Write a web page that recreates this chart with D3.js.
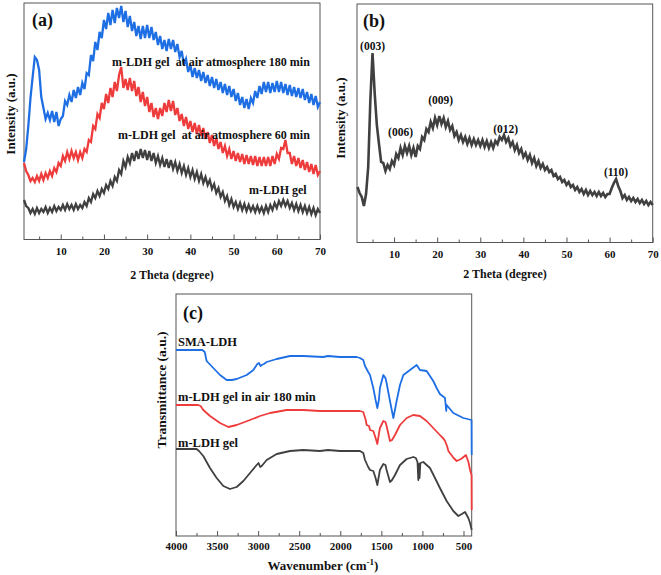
<!DOCTYPE html>
<html><head><meta charset="utf-8">
<script src="https://cdn.jsdelivr.net/npm/d3@7"></script>
<style>
html,body{margin:0;padding:0;background:#fff;}
svg text{font-family:"Liberation Serif","Times New Roman",serif;font-weight:bold;fill:#111;white-space:pre;}
</style></head><body>
<svg id="fig" width="661" height="575"></svg>
<script>
// ---------- Panel (a) & (b): XRD, 2θ sampling grid (degrees) ----------
const twoTheta = d3.range(1.5, 70.25, 0.5);
const xrdTicks = [10, 20, 30, 40, 50, 60, 70];
const xrdMinor = [5, 15, 25, 35, 45, 55, 65];

// (a) m-LDH gel at air atmosphere 180 min (a.u.)
const air180 = [
 77,90,113,141,162,182,179,169,142,131,
 120,126,119,128,117,127,113,120,123,138,
 134,144,137,149,141,152,144,156,150,166,
 164,184,178,197,189,207,201,219,210,226,
 214,229,216,231,221,233,217,228,212,223,
 208,217,203,213,200,213,201,214,201,212,
 199,207,194,203,190,199,188,200,190,199,
 187,195,182,188,174,180,167,174,162,171,
 161,169,158,167,156,164,153,162,151,160,
 149,157,146,155,144,153,142,150,138,146,
 134,142,131,140,130,141,136,148,141,153,
 145,157,147,157,146,156,147,158,147,157,
 146,155,144,154,143,152,142,151,141,150,
 139,147,136,145,134,143,132,137];
// (a) m-LDH gel at air atmosphere 60 min
const air60 = [
 76,68,64,58,61,57,63,58,65,59,
 66,61,68,63,71,67,76,73,83,78,
 87,80,88,81,87,79,87,81,90,87,
 99,97,113,110,125,121,136,130,145,136,
 151,142,157,148,164,172,151,160,149,161,
 148,158,143,152,137,147,133,142,127,136,
 122,131,120,131,123,136,127,139,128,138,
 124,131,118,125,113,122,110,118,107,116,
 105,114,103,111,100,107,96,104,93,101,
 90,97,86,93,83,90,80,88,78,86,
 77,85,75,84,75,83,74,83,73,82,
 73,82,73,82,73,83,75,85,80,91,
 90,99,86,86,75,83,73,81,71,79,
 69,77,67,75,65,74,64,68];
// (a) m-LDH gel
const gelA = [
 39,33,31,26,30,25,31,26,30,27,
 32,26,31,27,33,28,32,29,34,29,
 35,30,34,29,35,30,34,31,37,33,
 41,37,45,41,48,43,50,46,54,50,
 58,53,62,58,69,65,78,72,82,76,
 86,78,88,80,90,81,89,79,88,78,
 86,76,83,74,81,72,80,71,79,70,
 77,68,75,66,73,64,71,62,69,60,
 67,58,65,56,62,54,59,50,55,46,
 51,42,47,38,43,34,40,32,37,30,
 36,29,35,28,34,28,33,27,33,27,
 32,26,33,27,34,29,36,31,38,33,
 39,33,38,31,36,29,35,28,34,27,
 33,26,32,25,31,24,30,26];
// (b) SMA-LDH pattern
const smaXrd = [
 52,46,42,33,45,72,139,186,146,114,
 95,77,76,68,74,70,78,74,85,81,
 91,84,93,86,93,84,91,82,93,90,
 102,99,110,107,117,111,121,114,123,115,
 121,112,118,109,113,103,107,99,104,97,
 102,95,101,94,100,94,99,93,99,92,
 98,91,97,91,98,95,102,99,104,97,
 101,93,97,89,94,86,90,82,86,79,
 84,76,81,73,78,71,75,69,72,67,
 69,63,65,60,62,57,59,54,57,52,
 54,49,52,47,50,45,49,44,48,44,
 47,43,47,43,46,42,45,45,51,56,
 60,53,48,41,44,39,42,38,41,37,
 40,36,39,35,38,34,37,34];
const peakLabels = ["(003)", "(006)", "(009)", "(012)", "(110)"];
const peakPos = [5.0, 11.5, 20.8, 35.9, 61.5];
const peakVal = [189, 103, 135, 106, 63];

// ---------- Panel (c): FTIR ----------
const wnTicks = [4000, 3500, 3000, 2500, 2000, 1500, 1000, 500];
const wnMinor = [3750, 3250, 2750, 2250, 1750, 1250, 750];
const smaWn = [4000,3680,3650,3627,3546,3464,3383,3320,3261,3200,3139,3058,3010,2990,2970,2957,2930,2896,2774,2612,2450,2207,2150,2004,1800,1760,1720,1699,1660,1638,1598,1570,1549,1530,1517,1476,1450,1436,1395,1354,1330,1314,1273,1232,1151,1070,1030,949,868,850,827,787,740,725,710,705,624,502,402,400];
const smaT = [186,186,184,175,168,161,156,156,157,159,161,166,172,173,170,171,172,174,177,180,180,179,180,179,179,178,176,170,164,161,148,136,128,136,148,161,158,153,135,118,128,135,151,161,166,171,166,165,155,152,148,142,139,138,125,131,123,118,116,81];
const airWn = [4000,3730,3700,3668,3586,3464,3363,3261,3099,2977,2855,2653,2450,2247,2004,1760,1720,1690,1679,1650,1638,1598,1570,1549,1530,1517,1476,1450,1436,1395,1370,1334,1273,1192,1111,1030,949,868,787,740,725,700,684,620,583,530,470,440,420,402,400];
const airT = [131,131,130,126,120,113,109,111,116,120,123,126,126,125,125,125,124,116,111,110,106,105,98,92,102,108,115,114,110,95,96,101,111,118,121,120,115,108,101,97,95,90,85,78,75,77,81,74,66,61,26];
const gelWn = [4000,3750,3720,3668,3586,3505,3424,3343,3261,3180,3099,3018,2995,2975,2957,2896,2774,2612,2450,2247,2150,2004,1760,1720,1699,1660,1638,1598,1570,1549,1530,1517,1476,1450,1436,1395,1370,1334,1273,1192,1111,1080,1060,1050,1042,1035,1025,989,908,847,787,705,624,563,520,481,441,420,400];
const gelT = [87,87,85,80,68,58,50,47,49,55,63,71,73,69,70,76,82,85,86,85,86,85,85,83,76,69,66,65,58,51,60,66,72,71,66,54,56,61,71,77,79,78,74,56,72,58,73,74,68,58,48,35,25,20,22,24,18,13,6];

const BLUE = "#1f6fe4", RED = "#ee3b3b", GRAY = "#404040";
const svg = d3.select("#fig");

function frame(x0, x1, y0, y1) {
  svg.append("rect").attr("x", x0).attr("y", y0).attr("width", x1 - x0).attr("height", y1 - y0)
    .attr("fill", "none").attr("stroke", "#555").attr("stroke-width", 1);
}
function bottomAxis(x, y1, majors, minors, pad, fs) {
  const g = svg.append("g").attr("transform", `translate(0,${y1})`)
    .call(d3.axisBottom(x).tickValues(majors).tickSize(-5).tickPadding(pad).tickFormat(d3.format("d")));
  g.select(".domain").remove();
  g.attr("font-family", null).attr("font-size", null);
  g.selectAll("line").attr("stroke", "#555");
  g.selectAll("text").style("font-size", fs + "px");
  const m = svg.append("g").attr("transform", `translate(0,${y1})`)
    .call(d3.axisBottom(x).tickValues(minors).tickSize(-3).tickFormat(""));
  m.select(".domain").remove();
  m.selectAll("line").attr("stroke", "#555");
}
function txt(x, y, s, fs, anchor) {
  return svg.append("text").attr("x", x).attr("y", y).attr("text-anchor", anchor || "start")
    .style("font-size", fs + "px").text(s);
}
function ytitle(x, y, s, fs) {
  svg.append("text").attr("transform", `translate(${x},${y}) rotate(-90)`).attr("text-anchor", "middle")
    .style("font-size", fs + "px").text(s);
}

// ===== Panel (a) =====
{
  const x = d3.scaleLinear().domain([1.5, 70]).range([24, 320]);
  const y = d3.scaleLinear().domain([-0.5, 236]).range([239.5, 3]);
  frame(24, 320, 3, 239.5);
  const line = d3.line().x((d, i) => x(twoTheta[i])).y(d => y(d));
  [[gelA, GRAY], [air60, RED], [air180, BLUE]].forEach(([s, c]) => {
    svg.append("path").datum(s).attr("d", line).attr("fill", "none")
      .attr("stroke", c).attr("stroke-width", 2.3).attr("stroke-linejoin", "miter");
  });
  bottomAxis(x, 239.5, xrdTicks, xrdMinor, 8, 11);
  txt(172, 279, "2 Theta (degree)", 12, "middle");
  ytitle(14.5, 114, "Intensity (a.u.)", 13);
  txt(32, 26, "(a)", 18);
  txt(112, 66, "m-LDH gel  at air atmosphere 180 min", 12);
  txt(118, 139, "m-LDH gel  at air atmosphere 60 min", 12);
  txt(249, 194, "m-LDH gel", 12);
}

// ===== Panel (b) =====
{
  const x = d3.scaleLinear().domain([1.4, 70]).range([357, 652.7]);
  const y = d3.scaleLinear().domain([-3.5, 235]).range([242.5, 4]);
  frame(357, 652.7, 4, 242.5);
  const line = d3.line().x((d, i) => x(twoTheta[i])).y(d => y(d));
  svg.append("path").datum(smaXrd).attr("d", line).attr("fill", "none")
    .attr("stroke", GRAY).attr("stroke-width", 2.6).attr("stroke-linejoin", "miter");
  bottomAxis(x, 242.5, xrdTicks, xrdMinor, 8, 11);
  txt(505, 278, "2 Theta (degree)", 12, "middle");
  ytitle(344.5, 118, "Intensity (a.u.)", 13);
  txt(363, 27, "(b)", 18);
  peakLabels.forEach((s, i) => txt(x(peakPos[i]), y(peakVal[i]), s, 11.5, "middle"));
}

// ===== Panel (c) =====
{
  const x = d3.scaleLinear().domain([4000, 400]).range([176, 471.7]);
  const y = d3.scaleLinear().domain([0, 242]).range([536, 294]);
  frame(176, 471.7, 294, 536);
  const mk = (wn) => d3.line().x((d, i) => x(wn[i])).y(d => y(d));
  [[gelWn, gelT, GRAY], [airWn, airT, RED], [smaWn, smaT, BLUE]].forEach(([wn, t, c]) => {
    svg.append("path").datum(t).attr("d", mk(wn)).attr("fill", "none")
      .attr("stroke", c).attr("stroke-width", 1.8).attr("stroke-linejoin", "round");
  });
  bottomAxis(x, 536, wnTicks, wnMinor, 6, 11);
  const t = svg.append("text").attr("x", 323).attr("y", 570).attr("text-anchor", "middle").style("font-size", "13px");
  t.append("tspan").text("Wavenumber (cm");
  t.append("tspan").attr("dy", -5).style("font-size", "9px").text("-1");
  t.append("tspan").attr("dy", 5).text(")");
  ytitle(166, 390, "Transmittance (a.u.)", 13.5);
  txt(183, 319, "(c)", 18);
  txt(178, 346, "SMA-LDH", 12.5);
  txt(178, 401, "m-LDH gel in air 180 min", 12.5);
  txt(178, 447, "m-LDH gel", 12.5);
}
</script>
</body></html>
